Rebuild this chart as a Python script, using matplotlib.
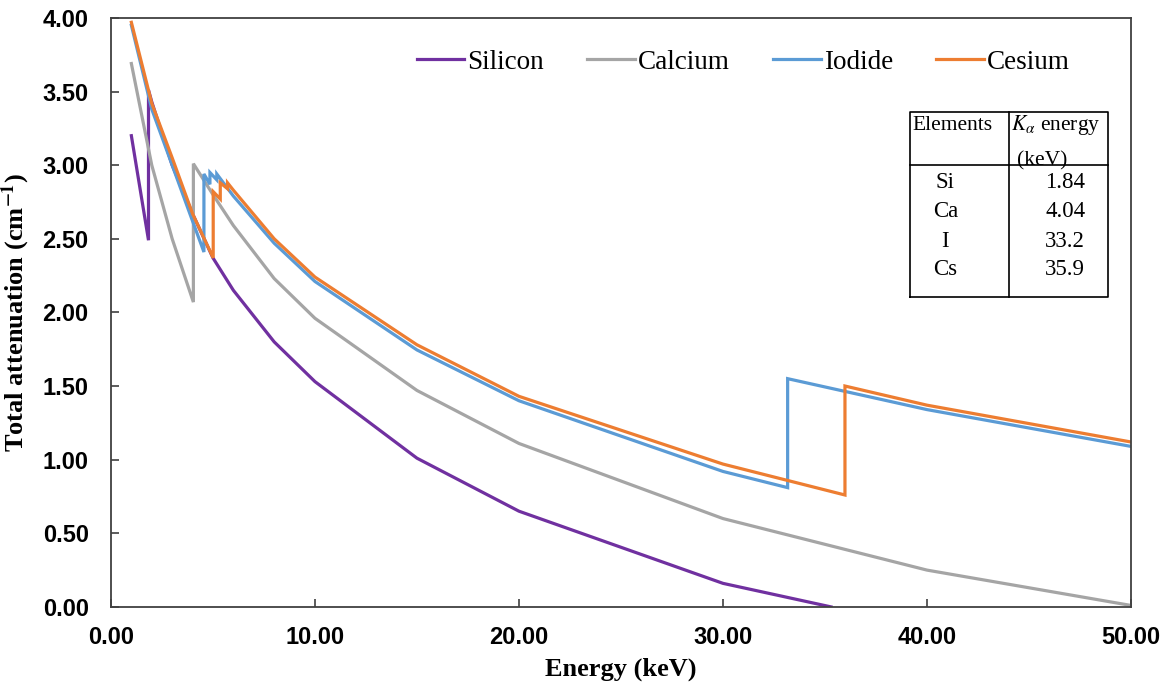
import matplotlib
matplotlib.use("Agg")
import matplotlib.pyplot as plt
from matplotlib.ticker import FormatStrFormatter

# Datos (energia en keV, atenuacion en cm^-1)
si_e = [1.0, 1.84, 1.84, 2, 3, 4, 5, 6, 8, 10, 15, 20, 30, 35.3]
si_mu = [3.20, 2.49, 3.51, 3.43, 3.00, 2.67, 2.37, 2.15, 1.80, 1.53, 1.01, 0.65, 0.16, 0.0]

ca_e = [1, 2, 3, 4.04, 4.04, 5, 6, 8, 10, 15, 20, 30, 40, 50]
ca_mu = [3.69, 3.00, 2.50, 2.07, 3.01, 2.80, 2.59, 2.23, 1.96, 1.47, 1.11, 0.60, 0.25, 0.01]

i_e = [1, 2, 3, 4, 4.557, 4.557, 4.852, 4.852, 5.188, 5.188, 6, 8, 10, 15, 20, 30, 33.17, 33.17, 40, 50]
i_mu = [3.95, 3.38, 3.00, 2.62, 2.41, 2.94, 2.87, 2.95, 2.90, 2.94, 2.79, 2.47, 2.21, 1.745, 1.40, 0.92, 0.81, 1.55, 1.34, 1.09]

cs_e = [1, 2, 3, 4, 5.012, 5.012, 5.359, 5.359, 5.714, 5.714, 6, 8, 10, 15, 20, 30, 35.98, 35.98, 40, 50]
cs_mu = [3.97, 3.42, 3.05, 2.67, 2.37, 2.82, 2.77, 2.88, 2.84, 2.88, 2.83, 2.50, 2.24, 1.78, 1.43, 0.97, 0.76, 1.50, 1.37, 1.12]

series_names = ["Silicon", "Calcium", "Iodide", "Cesium"]
series_colors = ["#7030A0", "#A5A5A5", "#5B9BD5", "#ED7D31"]

# Tabla de energias K-alfa
table_elements = ["Si", "Ca", "I", "Cs"]
table_energies = ["1.84", "4.04", "33.2", "35.9"]

x_ticks = [0, 10, 20, 30, 40, 50]
y_ticks = [0, 0.5, 1.0, 1.5, 2.0, 2.5, 3.0, 3.5, 4.0]

plt.rcParams["font.family"] = ["Liberation Serif", "DejaVu Serif"]
plt.rcParams["mathtext.fontset"] = "stix"

fig = plt.figure(figsize=(11.68, 6.96), dpi=100)
ax = fig.add_axes([0.095, 0.128, 0.8733, 0.8463])

datos = [(si_e, si_mu), (ca_e, ca_mu), (i_e, i_mu), (cs_e, cs_mu)]
for (e, mu), name, color in zip(datos, series_names, series_colors):
    ax.plot(e, mu, color=color, linewidth=2.3, label=name, solid_joinstyle="miter")

ax.set_xlim(0, 50)
ax.set_ylim(0, 4)
ax.set_xticks(x_ticks)
ax.set_yticks(y_ticks)
ax.xaxis.set_major_formatter(FormatStrFormatter("%.2f"))
ax.yaxis.set_major_formatter(FormatStrFormatter("%.2f"))
ax.tick_params(direction="in", length=6, width=1.2, color="#404040")
ax.tick_params(axis="x", pad=14)
ax.tick_params(axis="y", pad=16)
for lab in ax.get_xticklabels() + ax.get_yticklabels():
    lab.set_family(["Liberation Sans", "DejaVu Sans"])
    lab.set_fontweight("bold")
    lab.set_fontsize(17)
for sp in ax.spines.values():
    sp.set_color("#404040")
    sp.set_linewidth(1.3)

ax.set_xlabel("Energy (keV)", fontsize=19, fontweight="bold", labelpad=6)
ax.set_ylabel(r"Total attenuation (cm$^{\mathbf{-1}}$)", fontsize=19,
              fontweight="bold", labelpad=8)

ax.legend(loc="center", bbox_to_anchor=(0.62, 0.925), ncol=4, frameon=False,
          fontsize=19.5, handlelength=1.75, handletextpad=0.12,
          columnspacing=1.6)

# Tabla dibujada a mano en coordenadas de ejes
tr = ax.transAxes
x0, x1, xm = 0.783, 0.9775, 0.880
y0, y1, yh = 0.526, 0.841, 0.750
kw = dict(transform=tr, color="black", linewidth=1.2)
ax.plot([x0, x1, x1, x0, x0], [y0, y0, y1, y1, y0], **kw)
ax.plot([xm, xm], [y0, y1], **kw)
ax.plot([x0, x1], [yh, yh], **kw)

ax.text(0.786, 0.818, "Elements", transform=tr, fontsize=15.5, va="center")
ax.text(0.882, 0.818, r"$K_{\alpha}$ energy", transform=tr, fontsize=15.5, va="center")
ax.text(0.888, 0.757, "(keV)", transform=tr, fontsize=15.5, va="center")
row_y = [0.720, 0.671, 0.620, 0.572]
for el, en, yy in zip(table_elements, table_energies, row_y):
    ax.text(0.818, yy, el, transform=tr, fontsize=16.5, va="center", ha="center")
    ax.text(0.916, yy, en, transform=tr, fontsize=16.5, va="center", ha="left")

fig.savefig("out.png", dpi=100)
